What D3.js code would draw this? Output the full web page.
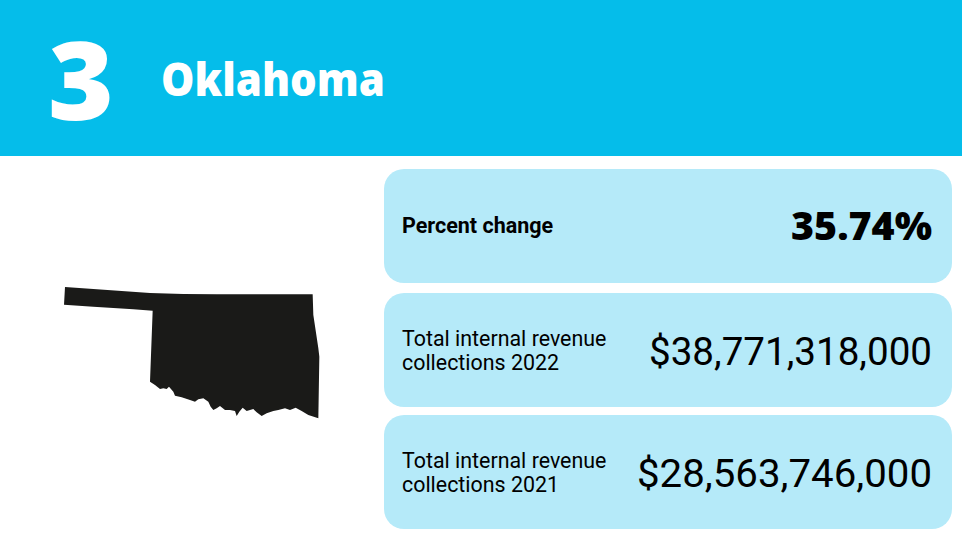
<!DOCTYPE html>
<html>
<head>
<meta charset="utf-8">
<script src="https://cdn.jsdelivr.net/npm/d3@7"></script>
<style>
  html, body { margin: 0; padding: 0; background: #fff; }
  svg { display: block; }
  text { font-family: Roboto, sans-serif; fill: #000; }
  .heavy { font-family: "Open Sans", sans-serif; }
</style>
</head>
<body>
<script>
'use strict';

const rank = '3';
const stateName = 'Oklahoma';
const rowLabels = [['Percent change'], ['Total internal revenue', 'collections 2022'], ['Total internal revenue', 'collections 2021']];
const rowValues = ['35.74%', '$38,771,318,000', '$28,563,746,000'];
const valueWidths = [141, 283, 295];

// state outline (x, y in outline units), clockwise from the panhandle
const outlineX = [45, 300, 400, 500, 788, 790, 805, 808, 805, 775, 755, 737, 720, 705, 685, 670, 650, 635, 620, 610, 600, 590, 578, 568, 560, 555, 540, 525, 510, 500, 490, 482, 475, 460, 445, 435, 420, 395, 375, 370, 357, 350, 340, 330, 315, 300, 308, 250, 130, 42];
const outlineY = [51, 69, 72, 73, 73, 135, 235, 260, 445, 435, 423, 413, 420, 415, 420, 423, 430, 438, 427, 417, 420, 423, 413, 425, 438, 423, 420, 420, 408, 415, 420, 410, 395, 385, 388, 395, 390, 382, 377, 365, 350, 357, 355, 357, 345, 335, 122, 118, 110, 104];

const width = 962, height = 550;
const svg = d3.select('body').append('svg').attr('width', width).attr('height', height);

// header band
svg.append('rect').attr('width', width).attr('height', 156).attr('fill', '#05bdea');
svg.append('text').classed('heavy', true).attr('x', 48).attr('y', 120)
  .attr('font-size', 108).attr('font-weight', 800)
  .attr('textLength', 66).attr('lengthAdjust', 'spacingAndGlyphs')
  .style('fill', '#fff').text(rank);
svg.append('text').classed('heavy', true).attr('x', 161).attr('y', 96)
  .attr('font-size', 46).attr('font-weight', 800)
  .attr('textLength', 224).attr('lengthAdjust', 'spacingAndGlyphs')
  .style('fill', '#fff').text(stateName);

// map
const x = d3.scaleLinear().domain([0, 870]).range([50, 340]);
const y = d3.scaleLinear().domain([0, 480]).range([270, 430]);
const line = d3.line().x(i => x(outlineX[i])).y(i => y(outlineY[i])).curve(d3.curveLinearClosed);
svg.append('path').attr('d', line(d3.range(outlineX.length))).attr('fill', '#1a1a18');

// cards
const rowY = d3.scaleOrdinal().domain([0, 1, 2]).range([169, 293, 415]);
const rows = svg.selectAll('g.row').data(rowValues).enter().append('g').classed('row', true)
  .attr('transform', (d, i) => `translate(384,${rowY(i)})`);

rows.append('rect').attr('width', 568).attr('height', 114).attr('rx', 20).attr('fill', '#b5eaf9');

rows.append('text').classed('heavy', (d, i) => i === 0)
  .attr('x', 548).attr('y', (d, i) => i === 0 ? 71 : 72).attr('text-anchor', 'end')
  .attr('font-size', (d, i) => i === 0 ? 38 : 39)
  .attr('font-weight', (d, i) => i === 0 ? 800 : 400)
  .attr('textLength', (d, i) => valueWidths[i]).attr('lengthAdjust', 'spacingAndGlyphs')
  .text(d => d);

rows.each(function (d, i) {
  const lines = rowLabels[i];
  const g = d3.select(this);
  lines.forEach((t, k) => {
    g.append('text').attr('x', 18).attr('y', lines.length === 1 ? 64 : 53 + k * 24)
      .attr('font-size', i === 0 ? 21.5 : 21.4).attr('font-weight', i === 0 ? 700 : 400).text(t);
  });
});
</script>
</body>
</html>
